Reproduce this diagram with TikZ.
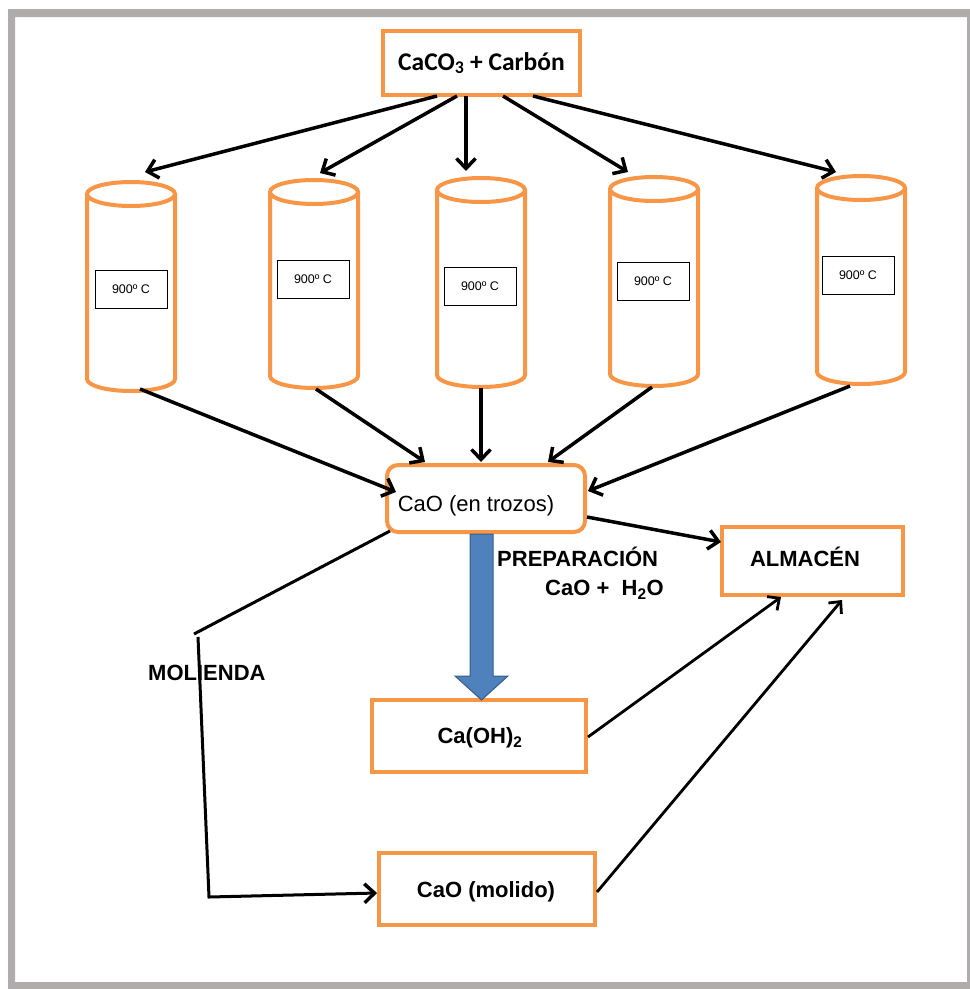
\documentclass[tikz,border=0pt]{standalone}
\usepackage{fontspec}
\setmainfont{Liberation Sans}
\newfontfamily\calib{Carlito}
\usetikzlibrary{arrows.meta}
\definecolor{org}{RGB}{247,150,70}
\definecolor{frm}{RGB}{176,172,172}
\definecolor{blu}{RGB}{79,129,189}
\definecolor{bluD}{RGB}{56,93,138}
\tikzset{
  obox/.style={draw=org, line width=4pt, fill=white, inner sep=0pt},
  lbl/.style={draw=black, line width=1pt, fill=white, minimum width=72pt, minimum height=38pt, inner sep=0pt, font=\fontsize{12.5}{14}\selectfont},
  cylline/.style={draw=org, line width=4pt, fill=white},
  arr/.style={line width=3.5pt, -{Straight Barb[length=10pt,width=19pt,line width=3.5pt]}},
  thinarr/.style={line width=2.8pt, -{Straight Barb[length=9pt,width=17pt,line width=2.8pt]}},
  bigtxt/.style={font=\fontsize{22}{26}\selectfont\bfseries, inner sep=0pt},
}
\newcommand{\cylinder}[6]{% name, cx, yt, yb, lx, ly
  \draw[cylline] (#2-44,#3) -- (#2-44,#4-12) arc[start angle=180, end angle=360, x radius=44pt, y radius=12pt] -- (#2+44,#3);
  \draw[cylline] (#2,#3) ellipse [x radius=44pt, y radius=12pt];
  \node[lbl] (#1) at (#5,#6) {900º C};
  \coordinate (#1top) at (#2,#3-12);
  \coordinate (#1bot) at (#2,#4);
}
\begin{document}
\begin{tikzpicture}[x=1pt,y=-1pt]
\useasboundingbox (0,0) rectangle (970,989);
\fill[frm,even odd rule] (8,9) rectangle (978,998) (15,17) rectangle (967,982);

% cylinders
\cylinder{c1}{131}{194}{391}{131}{289}
\cylinder{c2}{314}{192}{388}{313}{279}
\cylinder{c3}{481}{190}{387}{480}{286}
\cylinder{c4}{654}{189}{386}{653}{281}
\cylinder{c5}{861}{188}{384}{858}{275}

% boxes
\node[obox, minimum width=197pt, minimum height=64pt] (top) at (481.5,63)
  {\calib\fontsize{25.5}{30}\selectfont\bfseries CaCO\textsubscript{3} + Carbón};
\node[obox, rounded corners=11pt, minimum width=198pt, minimum height=67pt] (cao) at (486,498.5) {};
\node[inner sep=0pt, font=\fontsize{22}{26}\selectfont] (caotxt) at (476,506) {CaO (en trozos)};
\node[obox, minimum width=181pt, minimum height=68pt] (alm) at (812.5,561) {};
\node[bigtxt] (almtxt) at (805,557) {ALMACÉN};
\node[obox, minimum width=214pt, minimum height=72pt] (caoh) at (479,736) {};
\node[bigtxt] (caohtxt) at (480,738) {Ca(OH)\textsubscript{2}};
\node[obox, minimum width=216pt, minimum height=72pt] (mol) at (487,889) {};
\node[bigtxt] (moltxt) at (486,892) {CaO (molido)};

% labels
\node[bigtxt, anchor=west] (prep) at (497,557) {PREPARACIÓN};
\node[bigtxt, anchor=west] (prep2) at (545,590) {CaO +\ \ H\textsubscript{2}O};

% blue arrow
\fill[blu, draw=bluD, line width=1pt] (470,534) -- (493,534) -- (493,676) -- (508,676) -- (481.5,700) -- (455,676) -- (470,676) -- cycle;

% arrows top -> cylinders
\coordinate (t1) at (437,96);
\coordinate (t2) at (457,96);
\coordinate (t3) at (466,96);
\coordinate (t4) at (503,96);
\coordinate (t5) at (533,96);
\coordinate (a1) at (145,172);
\coordinate (a2) at (320,173);
\coordinate (a3) at (466,171);
\coordinate (a4) at (628,172);
\coordinate (a5) at (836,172);
\foreach \i in {1,...,5} \draw[arr] (t\i) -- (a\i);

% arrows cylinders -> CaO
\coordinate (b1) at (140,389);
\coordinate (b2) at (316,389);
\coordinate (b3) at (481,388);
\coordinate (b4) at (652,387);
\coordinate (b5) at (850,386);
\coordinate (e1) at (396,492);
\coordinate (e2) at (425,462);
\coordinate (e3) at (481,462);
\coordinate (e4) at (548,462);
\coordinate (e5) at (588,491);
\foreach \i in {1,...,5} \draw[arr] (b\i) -- (e\i);

% CaO -> ALMACEN
\coordinate (cr) at (587,517);
\coordinate (al) at (721,542);
\draw[arr] (cr) -- (al);
% Ca(OH)2 -> ALMACEN
\coordinate (hr) at (588,737);
\coordinate (ab1) at (781,597);
\draw[thinarr] (hr) -- (ab1);
% CaO molido -> ALMACEN
\coordinate (mr) at (597,892);
\coordinate (ab2) at (842,600);
\draw[thinarr] (mr) -- (ab2);

% MOLIENDA
\node[bigtxt, anchor=west] (moltag) at (148,673) {MOLIENDA};
\coordinate (cl) at (390,531);
\coordinate (m1) at (194,634);
\coordinate (m2) at (198,637);
\coordinate (m3) at (209,897);
\coordinate (ml) at (377,893);
\draw[line width=3pt] (cl) -- (m1);
\draw[arr, line width=3pt] (m2) -- (m3) -- (ml);
\end{tikzpicture}
\end{document}
